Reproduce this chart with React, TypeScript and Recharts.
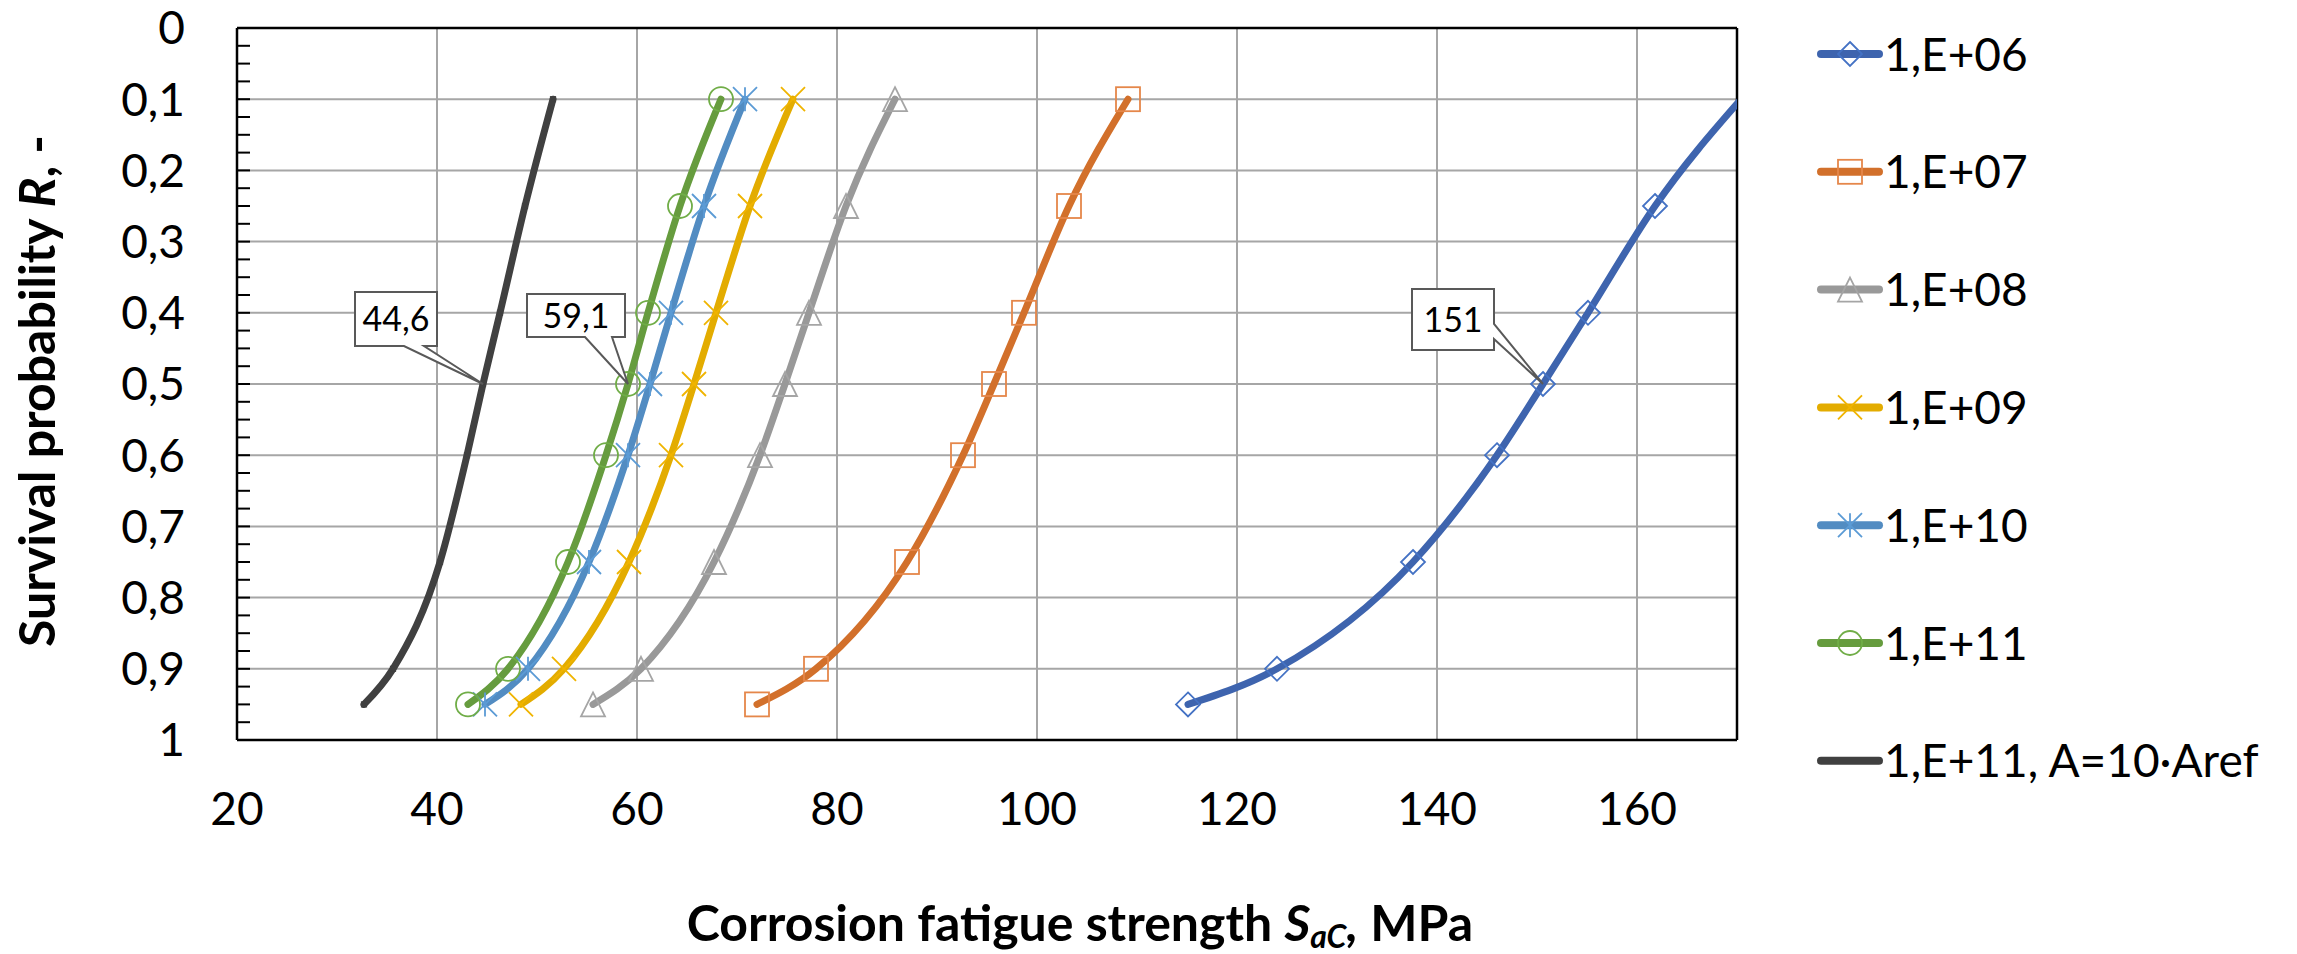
import {
  CartesianGrid,
  LabelList,
  Legend,
  Line,
  LineChart,
  ReferenceLine,
  XAxis,
  YAxis,
} from "recharts";

const FONT = "Lato, 'Open Sans', sans-serif";

// survival probability levels (bottom of chart to top)
const R_LEVELS = [0.95, 0.9, 0.75, 0.6, 0.5, 0.4, 0.25, 0.1];

// corrosion fatigue strength S_aC in MPa, one list per number of cycles
const S_1E06 = [115.1, 124.0, 137.6, 146.0, 150.6, 155.1, 161.8, 170.4];
const S_1E07 = [72.0, 77.9, 87.0, 92.6, 95.7, 98.7, 103.2, 109.1];
const S_1E08 = [55.6, 60.4, 67.7, 72.3, 74.8, 77.2, 80.9, 85.8];
const S_1E09 = [48.4, 52.7, 59.2, 63.4, 65.7, 67.9, 71.3, 75.6];
const S_1E10 = [44.8, 49.1, 55.2, 59.1, 61.3, 63.4, 66.7, 70.8];
const S_1E11 = [43.1, 47.1, 53.1, 56.9, 59.1, 61.1, 64.3, 68.4];
const S_1E11_AREF = [32.7, 35.6, 40.3, 43.0, 44.6, 46.3, 48.8, 51.6];

const X_DOMAIN = [20, 170];
const X_TICKS = [20, 40, 60, 80, 100, 120, 140, 160];
const Y_TICKS = [0, 0.1, 0.2, 0.3, 0.4, 0.5, 0.6, 0.7, 0.8, 0.9, 1];
const X_MINOR = Array.from({ length: 31 }, (_, i) => 20 + i * 5);
const Y_MINOR = Array.from({ length: 41 }, (_, i) => i * 0.025);

// data labels shown at R = 0.5
const CALLOUT_R = 0.5;
const CALLOUT_TEXT: Record<string, string> = {
  "1,E+06": "151",
  "1,E+11": "59,1",
  "1,E+11, A=10·Aref": "44,6",
};

type Shape = "diamond" | "square" | "triangle" | "cross" | "star" | "circle" | "tiny";

const SERIES: { name: string; values: number[]; line: string; mark: string; shape: Shape }[] = [
  { name: "1,E+06", values: S_1E06, line: "#3E64AE", mark: "#4472C4", shape: "diamond" },
  { name: "1,E+07", values: S_1E07, line: "#D2702B", mark: "#E5874A", shape: "square" },
  { name: "1,E+08", values: S_1E08, line: "#999999", mark: "#A5A5A5", shape: "triangle" },
  { name: "1,E+09", values: S_1E09, line: "#E3AC00", mark: "#F0B400", shape: "cross" },
  { name: "1,E+10", values: S_1E10, line: "#528CC2", mark: "#5B9BD5", shape: "star" },
  { name: "1,E+11", values: S_1E11, line: "#669C3E", mark: "#70AD47", shape: "circle" },
  { name: "1,E+11, A=10·Aref", values: S_1E11_AREF, line: "#404040", mark: "#404040", shape: "tiny" },
];

// layout
const W = 2297;
const H = 954;
const MARGIN = { top: 28, right: 560, bottom: 0, left: 0 };
const Y_AXIS_W = 237;
const X_AXIS_H = 214;
const PLOT_LEFT = MARGIN.left + Y_AXIS_W;
const PLOT_BOTTOM = H - MARGIN.bottom - X_AXIS_H;
const PLOT_RIGHT = W - MARGIN.right;

// callout box offsets relative to the labelled point
const CALLOUT_BOX: Record<string, any> = {
  "1,E+06": { x: -131, y: -95, w: 82, h: 61, side: "right", a: -60, b: -45 },
  "1,E+11": { x: -101, y: -90, w: 98, h: 43, side: "bottom", a: -43, b: -16 },
  "1,E+11, A=10·Aref": { x: -128, y: -92, w: 82, h: 54, side: "bottom", a: -79, b: -59 },
};

function Marker({ shape, cx, cy, color }: { shape: Shape; cx: number; cy: number; color: string }) {
  const h = 12;
  const st = { fill: "none", stroke: color, strokeWidth: 1.8 };
  switch (shape) {
    case "diamond":
      return <polygon points={`${cx},${cy - h} ${cx + h},${cy} ${cx},${cy + h} ${cx - h},${cy}`} {...st} />;
    case "square":
      return <rect x={cx - h} y={cy - h} width={2 * h} height={2 * h} {...st} />;
    case "triangle":
      return <polygon points={`${cx},${cy - h} ${cx + h},${cy + h} ${cx - h},${cy + h}`} {...st} />;
    case "cross":
      return <path d={`M${cx - h},${cy - h}L${cx + h},${cy + h}M${cx - h},${cy + h}L${cx + h},${cy - h}`} {...st} />;
    case "star":
      return (
        <path
          d={`M${cx - h},${cy - h}L${cx + h},${cy + h}M${cx - h},${cy + h}L${cx + h},${cy - h}M${cx},${cy - h}L${cx},${cy + h}`}
          {...st}
        />
      );
    case "circle":
      return <circle cx={cx} cy={cy} r={h} {...st} />;
    default:
      return <rect x={cx - 2.5} y={cy - 2.5} width={5} height={5} fill="none" stroke={color} strokeWidth={1.2} />;
  }
}

function makeDot(shape: Shape, color: string) {
  return (p: any) => {
    if (p.payload && p.payload.s > X_DOMAIN[1]) return <g key={`d-${p.index}`} />;
    return (
      <g key={`d-${p.index}`}>
        <Marker shape={shape} cx={p.cx} cy={p.cy} color={color} />
      </g>
    );
  };
}

function makeCallout(name: string) {
  const box = CALLOUT_BOX[name];
  const text = CALLOUT_TEXT[name];
  return (p: any) => {
    const vb = p.viewBox || {};
    const px = vb.x ?? p.x;
    const py = vb.y ?? p.y;
    if (p.index !== R_LEVELS.indexOf(CALLOUT_R) || px == null) return null;
    const l = px + box.x;
    const t = py + box.y;
    const r = l + box.w;
    const b = t + box.h;
    let d: string;
    if (box.side === "bottom") {
      d = `M${l},${t}H${r}V${b}H${px + box.b}L${px},${py}L${px + box.a},${b}H${l}Z`;
    } else {
      d = `M${l},${t}H${r}V${py + box.a}L${px},${py}L${r},${py + box.b}V${b}H${l}Z`;
    }
    return (
      <g>
        <path d={d} fill="#fff" stroke="#595959" strokeWidth={2} strokeLinejoin="miter" />
        <text x={(l + r) / 2} y={(t + b) / 2} dy="0.36em" textAnchor="middle" fontSize={34} fontFamily={FONT} fill="#000">
          {text}
        </text>
      </g>
    );
  };
}

const MinorTickX = (p: any) => (
  <line x1={p.x} x2={p.x} y1={PLOT_BOTTOM} y2={PLOT_BOTTOM - 12} stroke="#000" strokeWidth={2} />
);
const MinorTickY = (p: any) => (
  <line x1={PLOT_LEFT} x2={PLOT_LEFT + 13} y1={p.y} y2={p.y} stroke="#000" strokeWidth={2} />
);

const XTitle = () => (
  <text x={(PLOT_LEFT + PLOT_RIGHT) / 2 + 93} y={941} textAnchor="middle" fontSize={50} fontWeight="bold" fontFamily={FONT} fill="#000">
    Corrosion fatigue strength <tspan fontStyle="italic">S</tspan>
    <tspan fontStyle="italic" fontSize={32} dy={7}>aC</tspan>
    <tspan fontStyle="italic" dy={-7}>,</tspan> MPa
  </text>
);

const YTitle = () => (
  <text
    x={55}
    y={391}
    transform="rotate(-90, 55, 391)"
    textAnchor="middle"
    fontSize={50}
    fontWeight="bold"
    fontFamily={FONT}
    fill="#000"
  >
    Survival probability <tspan fontStyle="italic">R</tspan>, -
  </text>
);

function LegendBlock() {
  return (
    <svg width={497} height={820} style={{ display: "block" }}>
      {SERIES.map((s, i) => {
        const cy = 54 + i * 117.8;
        return (
          <g key={s.name}>
            <line x1={21} x2={79} y1={cy} y2={cy} stroke={s.line} strokeWidth={8} strokeLinecap="round" />
            {s.shape !== "tiny" && <Marker shape={s.shape} cx={50} cy={cy} color={s.mark} />}
            <text x={84} y={cy} dy="0.36em" fontSize={46} fontFamily={FONT} fill="#000">
              {s.name}
            </text>
          </g>
        );
      })}
    </svg>
  );
}

const fmtR = (v: number) => String(v).replace(".", ",");

export default function App() {
  return (
    <div style={{ position: "absolute", left: 0, top: 0, width: W, height: H, background: "#fff" }}>
      <LineChart width={W} height={H} margin={MARGIN}>
        <CartesianGrid stroke="#A6A6A6" strokeWidth={2} />
        <XAxis
          type="number"
          dataKey="s"
          domain={X_DOMAIN}
          ticks={X_TICKS}
          interval={0}
          allowDataOverflow
          height={X_AXIS_H}
          tickSize={0}
          tickMargin={52}
          tickLine={false}
          axisLine={{ stroke: "#000", strokeWidth: 2.5 }}
          tick={{ fill: "#000", fontSize: 46, fontFamily: FONT }}
          label={XTitle}
        />
        <XAxis
          xAxisId="minor"
          type="number"
          domain={X_DOMAIN}
          ticks={X_MINOR}
          interval={0}
          allowDataOverflow
          mirror
          height={2}
          tickSize={0}
          tickLine={false}
          axisLine={false}
          tick={MinorTickX}
        />
        <YAxis
          type="number"
          dataKey="r"
          domain={[0, 1]}
          reversed
          ticks={Y_TICKS}
          interval={0}
          allowDataOverflow
          width={Y_AXIS_W}
          tickSize={0}
          tickMargin={52}
          tickLine={false}
          tickFormatter={fmtR}
          axisLine={{ stroke: "#000", strokeWidth: 2.5 }}
          tick={{ fill: "#000", fontSize: 46, fontFamily: FONT }}
          label={YTitle}
        />
        <YAxis
          yAxisId="minor"
          type="number"
          domain={[0, 1]}
          reversed
          ticks={Y_MINOR}
          interval={0}
          allowDataOverflow
          mirror
          width={2}
          tickSize={0}
          tickLine={false}
          axisLine={false}
          tick={MinorTickY}
        />
        <ReferenceLine y={0} stroke="#000" strokeWidth={2.5} />
        <ReferenceLine x={X_DOMAIN[1]} stroke="#000" strokeWidth={2.5} />
        {SERIES.map((s) => (
          <Line
            key={s.name}
            name={s.name}
            data={s.values.map((v, i) => ({ s: v, r: R_LEVELS[i] }))}
            dataKey="r"
            type="monotone"
            stroke={s.line}
            strokeWidth={7}
            strokeLinecap="round"
            dot={makeDot(s.shape, s.mark)}
            activeDot={false}
            isAnimationActive={false}
          >
            {CALLOUT_TEXT[s.name] && <LabelList dataKey="s" content={makeCallout(s.name)} />}
          </Line>
        ))}
        <Legend
          layout="horizontal"
          verticalAlign="middle"
          align="center"
          wrapperStyle={{ left: 1800, top: 0, width: 497 }}
          content={() => <LegendBlock />}
        />
      </LineChart>
    </div>
  );
}
